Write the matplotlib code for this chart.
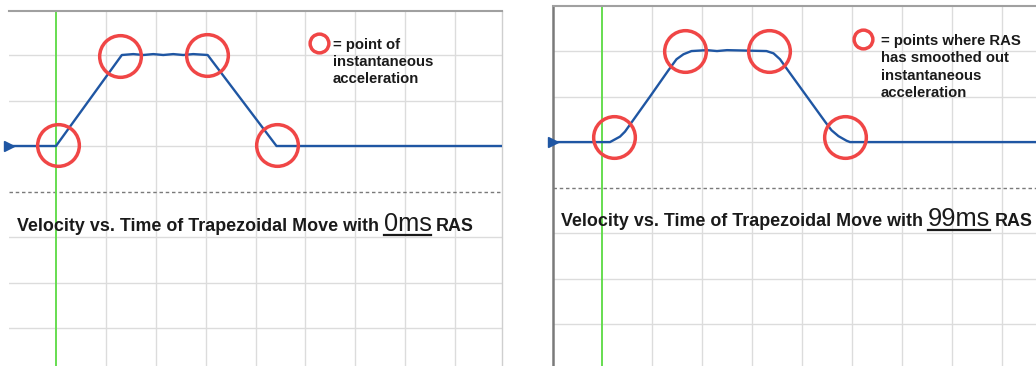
import matplotlib
matplotlib.use("Agg")
import matplotlib.pyplot as plt
from matplotlib.lines import Line2D

W, H, DPI = 1036, 366, 100

# Scope traces, x in time divisions, y in vertical divisions (0 = baseline)
t_0ms = [-0.95, 0.0, 1.32, 1.55, 1.75, 1.95, 2.15, 2.35, 2.55, 2.75, 3.04, 4.42, 8.94]
v_0ms = [0.0, 0.0, 2.0, 2.02, 2.0, 2.02, 2.0, 2.02, 2.0, 2.02, 2.0, 0.0, 0.0]

t_99ms = [-0.98, 0.16, 0.26, 0.36, 0.46, 0.96, 1.33, 1.49, 1.63, 1.79,
          2.1, 2.3, 2.5, 3.29, 3.43, 3.56, 3.69, 4.46, 4.59, 4.73, 4.89, 4.96, 8.68]
v_99ms = [0.0, 0.0, 0.06, 0.12, 0.23, 1.0, 1.58, 1.82, 1.93, 2.0,
          2.02, 2.0, 2.02, 2.0, 1.95, 1.82, 1.62, 0.45, 0.26, 0.13, 0.03, 0.0, 0.0]

# highlighted acceleration corners
cx_0ms = [0.05, 1.29, 3.02, 4.42]
cy_0ms = [0.02, 1.98, 2.0, 0.02]
cx_99ms = [0.23, 1.66, 3.33, 4.86]
cy_99ms = [0.12, 2.0, 2.0, 0.12]

key_0ms = (5.27, 2.26)
key_99ms = (5.22, 2.26)
key_lines_0ms = ["= point of", "instantaneous", "acceleration"]
key_lines_99ms = ["= points where RAS", "has smoothed out", "instantaneous", "acceleration"]

ras_0ms = "0ms"
ras_99ms = "99ms"

BLUE = "#1f56a3"
RED = "#f04646"
GREEN = "#66dd50"
GRID = "#dcdcdc"
TEXT = "#1a1a1a"
FONT = "Liberation Sans"

plt.rcParams["font.family"] = [FONT, "DejaVu Sans"]

fig = plt.figure(figsize=(W / DPI, H / DPI), dpi=DPI)


def px_axes(x0, y0, x1, y1):
    # pixel box with top-left origin -> figure axes
    return fig.add_axes([x0 / W, 1 - y1 / H, (x1 - x0) / W, (y1 - y0) / H])


def scope_panel(ax, xlim, ylim, t, v, cx, cy, key_xy):
    ax.set_xlim(*xlim)
    ax.set_ylim(*ylim)
    ax.set_xticks(range(1, 9))
    ax.set_yticks([2, 1, 0, -2, -3, -4])
    ax.tick_params(length=0, labelbottom=False, labelleft=False)
    ax.grid(True, color=GRID, lw=1.0)
    ax.set_axisbelow(True)
    for s in ax.spines.values():
        s.set_visible(False)

    # trigger level and trigger time markers
    ax.axhline(-1, color="#7a7a7a", lw=1.0, ls=(0, (2.5, 2)))
    ax.axvline(0, color=GREEN, lw=1.4)

    ax.plot(t, v, color=BLUE, lw=1.7, zorder=3)
    ax.plot([t[0]], [0], marker=">", ms=7, color=BLUE, clip_on=False, zorder=4)

    ax.plot(cx, cy, ls="none", marker="o", ms=30, mfc="none",
            mec=RED, mew=2.5, zorder=5)
    ax.plot([key_xy[0]], [key_xy[1]], ls="none", marker="o", ms=13.5,
            mfc="none", mec=RED, mew=2.5, zorder=5)


def key_text(x_px, base_px, lines, step=17.4):
    for i, line in enumerate(lines):
        fig.text(x_px / W, 1 - (base_px + i * step) / H, line, fontsize=10.7,
                 weight="bold", color=TEXT, va="baseline")


def draw_title(x_px, base_px, value):
    r = fig.canvas.get_renderer()
    y = 1 - base_px / H
    gap = 4.6
    t1 = fig.text(x_px / W, y, "Velocity vs. Time of Trapezoidal Move with",
                  fontsize=12.9, weight="bold", color=TEXT, va="baseline")
    x = t1.get_window_extent(r).x1 + gap
    tv = fig.text(x / W, y, value, fontsize=18.3, color=TEXT, va="baseline")
    bb = tv.get_window_extent(r)
    uy = 1 - (base_px + 3.5) / H
    fig.add_artist(Line2D([bb.x0 / W, bb.x1 / W], [uy, uy], color=TEXT, lw=1.6))
    x = bb.x1 + gap
    fig.text(x / W, y, "RAS", fontsize=12.9, weight="bold", color=TEXT, va="baseline")


# left panel: 0 ms RAS
ax1 = px_axes(8.6, 11, 502, 366)
scope_panel(ax1, (-0.95, 8.94), (-4.835, 2.967), t_0ms, v_0ms, cx_0ms, cy_0ms, key_0ms)
ax1.spines["top"].set_visible(True)
ax1.spines["top"].set_color("#a0a0a0")
ax1.spines["top"].set_linewidth(1.5)
ax1.spines["right"].set_visible(True)
ax1.spines["right"].set_color("#cfcfcf")
ax1.spines["right"].set_linewidth(1.0)

# right panel: 99 ms RAS
ax2 = px_axes(553, 6, 1036, 366)
scope_panel(ax2, (-0.98, 8.68), (-4.92, 2.99), t_99ms, v_99ms, cx_99ms, cy_99ms, key_99ms)
ax2.spines["top"].set_visible(True)
ax2.spines["top"].set_color("#a0a0a0")
ax2.spines["top"].set_linewidth(1.5)
ax2.spines["left"].set_visible(True)
ax2.spines["left"].set_color("#7a7a7a")
ax2.spines["left"].set_linewidth(1.8)

key_text(333, 49, key_lines_0ms, step=17.2)
key_text(881, 45, key_lines_99ms, step=17.4)

draw_title(17, 231, ras_0ms)
draw_title(561, 226, ras_99ms)

fig.savefig("out.png", dpi=DPI)
